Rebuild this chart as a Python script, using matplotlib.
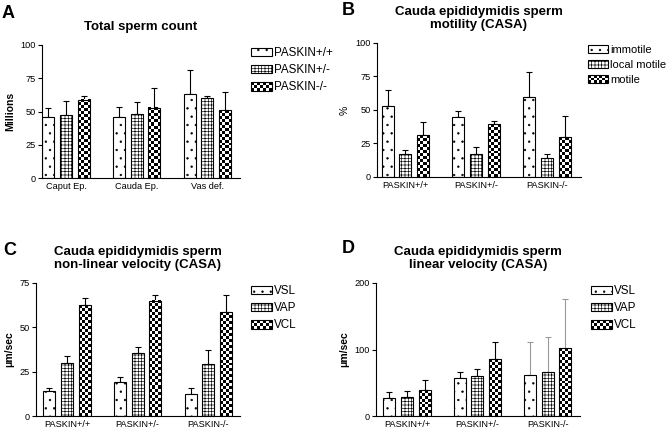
import numpy as np
import matplotlib
matplotlib.use("Agg")
import matplotlib.pyplot as plt
from matplotlib.patches import Rectangle
from matplotlib.legend_handler import HandlerBase

plt.rcParams['font.family'] = ['Liberation Sans', 'DejaVu Sans']
plt.rcParams['hatch.linewidth'] = 0.45

# Panel A - total sperm count
A_groups = ['Caput Ep.', 'Cauda Ep.', 'Vas def.']
A_series = ['PASKIN+/+', 'PASKIN+/-', 'PASKIN-/-']
A_wt = [46, 45.5, 63]
A_het = [47.5, 48, 60]
A_ko = [59, 53, 51]
A_wt_err = [7, 8, 18]
A_het_err = [10.5, 9.5, 1.5]
A_ko_err = [3, 15, 14]

# Panel B - motility
genotypes = ['PASKIN+/+', 'PASKIN+/-', 'PASKIN-/-']
B_series = ['immotile', 'local motile', 'motile']
B_immotile = [53, 45, 59.5]
B_local = [17, 17, 14]
B_motile = [31, 39.5, 29.5]
B_immotile_err = [12, 4, 19]
B_local_err = [3.5, 5.5, 3.5]
B_motile_err = [10, 2.5, 16]

# Panel C - non-linear velocity
vel_series = ['VSL', 'VAP', 'VCL']
C_vsl = [14, 19, 12.5]
C_vap = [30, 35.5, 29.5]
C_vcl = [62.5, 65, 58.5]
C_vsl_err = [2, 3, 3.5]
C_vap_err = [4, 3.5, 8]
C_vcl_err = [4, 3, 9.5]

# Panel D - linear velocity
D_vsl = [27, 57, 62]
D_vap = [29, 60, 66]
D_vcl = [39, 85, 102]
D_vsl_err = [9, 9, 50]
D_vap_err = [9, 11, 53]
D_vcl_err = [15, 27, 74]


class HandlerChecker(HandlerBase):
    def create_artists(self, legend, orig_handle, xdescent, ydescent,
                       width, height, fontsize, trans):
        arts = []
        nc, nr = 7, 3
        cw, ch = width / nc, height / nr
        for i in range(nr):
            for j in range(nc):
                if (i + j) % 2 == 0:
                    arts.append(Rectangle((-xdescent + j * cw, -ydescent + i * ch), cw, ch,
                                          facecolor='black', edgecolor='none', transform=trans))
        arts.append(Rectangle((-xdescent, -ydescent), width, height, facecolor='none',
                              edgecolor='black', lw=0.8, transform=trans))
        return arts


def panel(ax, groups, series, vals, errs, ylim, yticks, ylabel, title,
          xlim, legend_xy, err_colors=None, legend_size=8.4):
    x = np.arange(len(groups))
    off = [-0.25, 0, 0.25]
    w = 0.17
    ax.set_xlim(*xlim)
    ax.set_ylim(*ylim)
    handles = []
    checker_rects = []
    for k in range(3):
        xs = x + off[k]
        if k == 0:
            b = ax.bar(xs, vals[k], w, facecolor='white', edgecolor='black',
                       hatch='..', lw=0.8, zorder=2)
        elif k == 1:
            b = ax.bar(xs, vals[k], w, facecolor='white', edgecolor='black',
                       hatch='+++++', lw=0.8, zorder=2)
        else:
            b = ax.bar(xs, vals[k], w, facecolor='none', edgecolor='black',
                       lw=0.8, zorder=2)
            checker_rects = list(b.patches)
        handles.append(b)
        for g in range(len(groups)):
            c = 'black' if err_colors is None else err_colors[g]
            ax.errorbar(xs[g], vals[k][g], yerr=[[0], [errs[k][g]]], fmt='none',
                        ecolor=c, elinewidth=0.8, capsize=2.5, capthick=0.8, zorder=1)
    # checkerboard fill for the third series
    for r in checker_rects:
        bb = r.get_window_extent()
        ncols = 4
        cell = bb.width / ncols
        nrows = max(1, int(round(bb.height / cell)))
        img = np.add.outer(np.arange(nrows), np.arange(ncols)) % 2
        x0 = r.get_x()
        ax.imshow(img, cmap='gray', vmin=0, vmax=1, origin='lower',
                  extent=(x0, x0 + r.get_width(), 0, r.get_height()),
                  interpolation='nearest', aspect='auto', clip_path=r, zorder=1.5)
    ax.set_xlim(*xlim)
    ax.set_ylim(*ylim)
    ax.set_xticks(x)
    ax.set_xticklabels(groups, fontsize=6.6)
    ax.tick_params(axis='x', length=0, pad=3)
    ax.set_yticks(yticks)
    ax.tick_params(axis='y', labelsize=6.6, length=3, width=0.8, pad=1.5)
    for s in ['top', 'right']:
        ax.spines[s].set_visible(False)
    for s in ['left', 'bottom']:
        ax.spines[s].set_linewidth(0.8)
    ax.set_ylabel(ylabel, fontsize=7.5, fontweight='bold' if ylabel != '%' else 'normal')
    ax.set_title(title, fontsize=9.5, fontweight='bold', pad=11, linespacing=1.1)
    proxy = Rectangle((0, 0), 1, 1)
    leg = ax.legend([handles[0], handles[1], proxy], series, loc='upper left',
                    bbox_to_anchor=legend_xy, bbox_transform=ax.figure.transFigure,
                    frameon=False, fontsize=legend_size, borderpad=0, borderaxespad=0,
                    handlelength=1.8, handleheight=0.7, handletextpad=0.2,
                    labelspacing=0.45, handler_map={proxy: HandlerChecker()})
    return leg


fig = plt.figure(figsize=(6.68, 4.30), dpi=100)
W, H = 668, 430


def axpos(l, r, t, b):
    return [l / W, 1 - b / H, (r - l) / W, (b - t) / H]


axA = fig.add_axes(axpos(42, 240, 45, 178))
axB = fig.add_axes(axpos(377, 581, 43, 177))
axC = fig.add_axes(axpos(36, 240, 283, 416))
axD = fig.add_axes(axpos(376, 580, 283, 416))

panel(axA, A_groups, A_series, [A_wt, A_het, A_ko], [A_wt_err, A_het_err, A_ko_err],
      (0, 100), [0, 25, 50, 75, 100], 'Millions', 'Total sperm count',
      (-0.34, 2.46), (251 / W, 1 - 47 / H))
panel(axB, genotypes, B_series, [B_immotile, B_local, B_motile],
      [B_immotile_err, B_local_err, B_motile_err],
      (0, 100), [0, 25, 50, 75, 100], '%', 'Cauda epididymidis sperm\nmotility (CASA)',
      (-0.40, 2.48), (588 / W, 1 - 45 / H), legend_size=8)
panel(axC, genotypes, vel_series, [C_vsl, C_vap, C_vcl], [C_vsl_err, C_vap_err, C_vcl_err],
      (0, 75), [0, 25, 50, 75], '\u03bcm/sec',
      'Cauda epididymidis sperm\nnon-linear velocity (CASA)',
      (-0.44, 2.45), (251 / W, 1 - 285 / H))
panel(axD, genotypes, vel_series, [D_vsl, D_vap, D_vcl], [D_vsl_err, D_vap_err, D_vcl_err],
      (0, 200), [0, 100, 200], '\u03bcm/sec',
      'Cauda epididymidis sperm\nlinear velocity (CASA)',
      (-0.44, 2.46), (591 / W, 1 - 285 / H), err_colors=['black', 'black', '#9a9a9a'])

for lbl, xx, yy in [('A', 2, 18), ('B', 342, 15), ('C', 3, 255), ('D', 342, 253)]:
    fig.text(xx / W, 1 - yy / H, lbl, fontsize=13, fontweight='bold', va='baseline')

fig.savefig('out.png', dpi=100)
